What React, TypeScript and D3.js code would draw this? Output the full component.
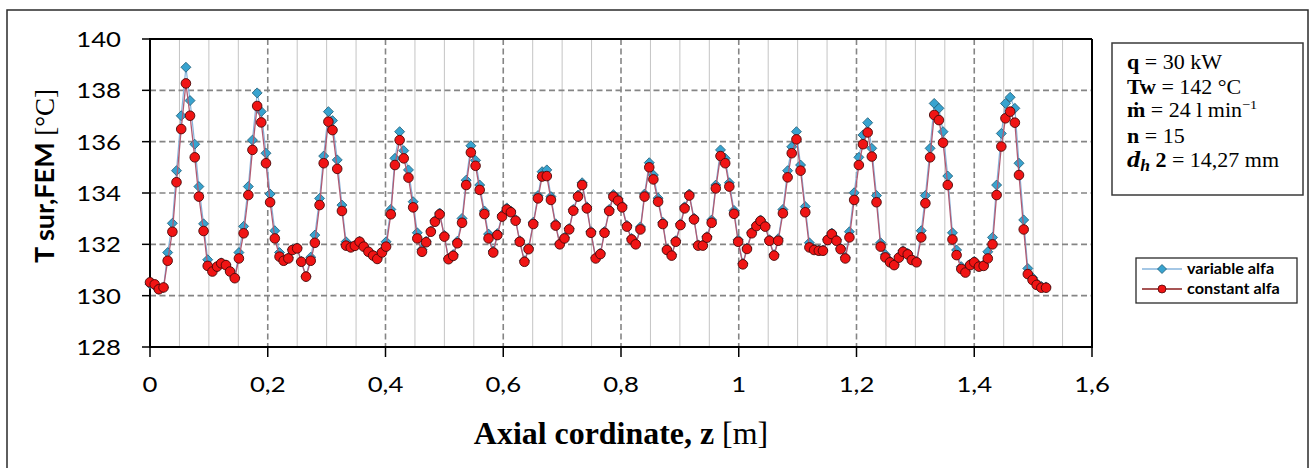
import React from "react";
import * as d3 from "d3";

// Axial coordinate z [m]
const zValues: number[] = [
  0.000, 0.008, 0.015, 0.023, 0.030, 0.038, 0.045, 0.053, 0.061, 0.068,
  0.076, 0.083, 0.091, 0.098, 0.106, 0.114, 0.121, 0.129, 0.136, 0.144,
  0.151, 0.159, 0.167, 0.174, 0.182, 0.189, 0.197, 0.204, 0.212, 0.220,
  0.227, 0.235, 0.242, 0.250, 0.257, 0.265, 0.273, 0.280, 0.288, 0.295,
  0.303, 0.310, 0.318, 0.326, 0.333, 0.341, 0.348, 0.356, 0.363, 0.371,
  0.379, 0.386, 0.394, 0.401, 0.409, 0.416, 0.424, 0.431, 0.439, 0.447,
  0.454, 0.462, 0.469, 0.477, 0.484, 0.492, 0.500, 0.507, 0.515, 0.522,
  0.530, 0.537, 0.545, 0.553, 0.560, 0.568, 0.575, 0.583, 0.590, 0.598,
  0.606, 0.613, 0.621, 0.628, 0.636, 0.643, 0.651, 0.659, 0.666, 0.674,
  0.681, 0.689, 0.696, 0.704, 0.712, 0.719, 0.727, 0.734, 0.742, 0.749,
  0.757, 0.765, 0.772, 0.780, 0.787, 0.795, 0.802, 0.810, 0.818, 0.825,
  0.833, 0.840, 0.848, 0.855, 0.863, 0.871, 0.878, 0.886, 0.893, 0.901,
  0.908, 0.916, 0.924, 0.931, 0.939, 0.946, 0.954, 0.961, 0.969, 0.977,
  0.984, 0.992, 0.999, 1.007, 1.014, 1.022, 1.030, 1.037, 1.045, 1.052,
  1.060, 1.067, 1.075, 1.083, 1.090, 1.098, 1.105, 1.113, 1.120, 1.128,
  1.136, 1.143, 1.151, 1.158, 1.166, 1.173, 1.181, 1.188, 1.196, 1.204,
  1.211, 1.219, 1.226, 1.234, 1.241, 1.249, 1.257, 1.264, 1.272, 1.279,
  1.287, 1.294, 1.302, 1.310, 1.317, 1.325, 1.332, 1.340, 1.347, 1.355,
  1.363, 1.370, 1.378, 1.385, 1.393, 1.400, 1.408, 1.416, 1.423, 1.431,
  1.438, 1.446, 1.453, 1.461, 1.469, 1.476, 1.484, 1.491, 1.499, 1.506,
  1.514, 1.522,
];

// T sur,FEM [°C] – variable alfa
const variableAlfa: number[] = [
  130.45, 130.40, 130.25, 130.32, 131.68, 132.82, 134.87, 137.01, 138.90, 137.60,
  135.90, 134.25, 132.80, 131.40, 131.00, 131.15, 131.28, 131.20, 130.96, 130.70,
  131.68, 132.70, 134.25, 136.06, 137.90, 137.17, 135.55, 133.96, 132.53, 131.68,
  131.40, 131.48, 131.80, 131.86, 131.34, 130.76, 131.50, 132.36, 133.79, 135.44,
  137.17, 136.82, 135.29, 133.53, 132.10, 131.92, 131.96, 132.12, 131.93, 131.73,
  131.58, 131.45, 131.72, 132.10, 133.36, 135.35, 136.39, 135.65, 134.90, 133.66,
  132.45, 131.80, 132.12, 132.52, 132.92, 133.22, 132.35, 131.46, 131.60, 132.12,
  133.01, 134.50, 135.84, 135.27, 134.31, 133.30, 132.40, 131.74, 132.42, 133.14,
  133.42, 133.30, 132.96, 132.14, 131.36, 131.86, 132.86, 133.90, 134.83, 134.90,
  133.86, 132.80, 132.04, 132.27, 132.62, 133.36, 133.92, 134.40, 133.46, 132.50,
  131.48, 131.66, 132.50, 133.36, 133.94, 133.78, 133.50, 132.74, 132.23, 132.04,
  132.68, 133.96, 135.18, 134.70, 133.80, 132.86, 131.82, 131.60, 132.14, 132.80,
  133.46, 133.96, 133.02, 131.98, 131.98, 132.30, 132.95, 134.31, 135.68, 135.35,
  134.40, 133.32, 132.18, 131.26, 131.86, 132.47, 132.75, 132.95, 132.73, 132.18,
  131.60, 132.22, 133.36, 134.87, 135.80, 136.39, 135.09, 133.47, 132.06, 131.82,
  131.78, 131.78, 132.20, 132.44, 132.18, 131.85, 131.50, 132.49, 134.01, 135.39,
  136.26, 136.74, 135.74, 133.90, 132.06, 131.60, 131.34, 131.22, 131.52, 131.75,
  131.65, 131.43, 131.34, 132.53, 133.90, 135.74, 137.49, 137.30, 136.39, 134.66,
  132.45, 131.78, 131.13, 130.95, 131.23, 131.34, 131.17, 131.20, 131.71, 132.27,
  134.31, 136.32, 137.49, 137.73, 137.30, 135.16, 132.95, 131.06, 130.70, 130.48,
  130.36, 130.34,
];

// T sur,FEM [°C] – constant alfa
const constantAlfa: number[] = [
  130.52, 130.44, 130.25, 130.32, 131.36, 132.49, 134.42, 136.49, 138.27, 137.01,
  135.39, 133.86, 132.52, 131.16, 130.94, 131.13, 131.26, 131.19, 130.94, 130.68,
  131.45, 132.43, 133.92, 135.68, 137.39, 136.75, 135.16, 133.64, 132.23, 131.52,
  131.36, 131.45, 131.78, 131.84, 131.32, 130.74, 131.36, 132.06, 133.53, 135.16,
  136.78, 136.45, 134.94, 133.30, 131.95, 131.88, 131.94, 132.10, 131.91, 131.71,
  131.56, 131.43, 131.68, 131.91, 133.17, 135.09, 136.06, 135.35, 134.60, 133.44,
  132.23, 131.71, 132.08, 132.49, 132.88, 133.17, 132.30, 131.42, 131.55, 132.04,
  132.84, 134.31, 135.58, 135.06, 134.12, 133.18, 132.23, 131.68, 132.36, 133.08,
  133.36, 133.25, 132.92, 132.10, 131.32, 131.81, 132.79, 133.79, 134.64, 134.66,
  133.73, 132.73, 132.00, 132.23, 132.58, 133.31, 133.86, 134.31, 133.40, 132.45,
  131.45, 131.62, 132.45, 133.30, 133.86, 133.70, 133.44, 132.69, 132.19, 132.00,
  132.58, 133.86, 135.00, 134.53, 133.66, 132.79, 131.78, 131.56, 132.10, 132.75,
  133.40, 133.90, 132.97, 131.95, 131.95, 132.26, 132.84, 134.18, 135.44, 135.16,
  134.25, 133.19, 132.10, 131.22, 131.82, 132.43, 132.71, 132.91, 132.69, 132.14,
  131.56, 132.14, 133.21, 134.61, 135.55, 136.09, 134.87, 133.25, 131.88, 131.78,
  131.75, 131.75, 132.17, 132.40, 132.14, 131.81, 131.45, 132.27, 133.73, 135.09,
  135.90, 136.36, 135.42, 133.64, 131.91, 131.49, 131.30, 131.19, 131.48, 131.71,
  131.61, 131.39, 131.30, 132.27, 133.60, 135.39, 137.04, 136.84, 135.96, 134.31,
  132.19, 131.58, 131.04, 130.90, 131.19, 131.30, 131.13, 131.16, 131.45, 132.00,
  133.92, 135.81, 136.91, 137.17, 136.74, 134.70, 132.58, 130.84, 130.61, 130.42,
  130.31, 130.31,
];

const xTicks: number[] = [0, 0.2, 0.4, 0.6, 0.8, 1.0, 1.2, 1.4, 1.6];
const xTickLabels: string[] = ["0", "0,2", "0,4", "0,6", "0,8", "1", "1,2", "1,4", "1,6"];
const xMinorTicks: number[] = [
  0.05, 0.1, 0.15, 0.25, 0.3, 0.35, 0.45, 0.5, 0.55, 0.65, 0.7, 0.75,
  0.85, 0.9, 0.95, 1.05, 1.1, 1.15, 1.25, 1.3, 1.35, 1.45, 1.5, 1.55,
];
const yTicks: number[] = [128, 130, 132, 134, 136, 138, 140];

const seriesNames: string[] = ["variable alfa", "constant alfa"];

const W = 1314;
const H = 468;
const PL = 150, PR = 1092, PT = 39, PB = 347;

const SANS = "Lato, 'Open Sans', sans-serif";
const SERIF = "'Liberation Serif', 'Times New Roman', serif";

const BLUE_FILL = "#38a3cf";
const BLUE_STROKE = "#1f5a73";
const BLUE_LINE = "#86b4dc";
const RED_FILL = "#f01414";
const RED_STROKE = "#4a0808";
const RED_LINE = "#b05a72";

const diamond = (cx: number, cy: number, r: number) =>
  `M${cx},${cy - r}L${cx + r},${cy}L${cx},${cy + r}L${cx - r},${cy}Z`;

function SText(props: {
  x: number; y: number; sx?: number; anchor?: string; size: number;
  family: string; weight?: string | number; children: React.ReactNode;
}) {
  const { x, y, sx = 1, anchor = "start", size, family, weight = "normal", children } = props;
  return (
    <text
      transform={`translate(${x},${y}) scale(${sx},1)`}
      textAnchor={anchor}
      fontSize={size}
      fontFamily={family}
      fontWeight={weight}
      fill="#000"
    >
      {children}
    </text>
  );
}

export default function App() {
  const x = d3.scaleLinear().domain([0, 1.6]).range([PL, PR]);
  const y = d3.scaleLinear().domain([128, 140]).range([PB, PT]);

  const varPts = zValues.map((z, i) => [x(z), y(variableAlfa[i])] as [number, number]);
  const conPts = zValues.map((z, i) => [x(z), y(constantAlfa[i])] as [number, number]);
  const line = d3.line();

  const boxX = 1112, boxY = 43;
  const lineH = 24.5;
  const legX = 1136, legY = 258, legW = 161, legH = 45;

  return (
    <svg
      width={W}
      height={H}
      style={{ position: "absolute", left: 0, top: 0, background: "#fff" }}
    >
      <rect x={0} y={0} width={W} height={H} fill="#fff" />
      {/* outer chart frame */}
      <rect x={7} y={10} width={1301} height={470} fill="none" stroke="#2a2a2a" strokeWidth={1.5} />

      {/* minor vertical gridlines */}
      {xMinorTicks.map((t) => (
        <line key={"mn" + t} x1={x(t)} x2={x(t)} y1={PT} y2={PB} stroke="#c4c4c4" strokeWidth={1} />
      ))}
      {/* major vertical gridlines */}
      {xTicks.filter((t) => t > 0 && t < 1.6).map((t) => (
        <line key={"mj" + t} x1={x(t)} x2={x(t)} y1={PT} y2={PB} stroke="#858585" strokeWidth={1.6} strokeDasharray="6,3.5" />
      ))}
      {/* horizontal gridlines */}
      {yTicks.filter((t) => t > 128 && t < 140).map((t) => (
        <line key={"h" + t} x1={PL} x2={PR} y1={y(t)} y2={y(t)} stroke="#858585" strokeWidth={1.6} strokeDasharray="6,3.5" />
      ))}

      {/* plot border / axes */}
      <line x1={PL} x2={PR} y1={PT} y2={PT} stroke="#000" strokeWidth={2} />
      <line x1={PR} x2={PR} y1={PT} y2={PB} stroke="#000" strokeWidth={2} />
      <line x1={PL} x2={PL} y1={PT - 1} y2={PB + 1} stroke="#000" strokeWidth={2} />
      <line x1={PL - 1} x2={PR + 1} y1={PB} y2={PB} stroke="#000" strokeWidth={2} />

      {/* ticks */}
      {yTicks.map((t) => (
        <line key={"yt" + t} x1={PL - 8} x2={PL} y1={y(t)} y2={y(t)} stroke="#000" strokeWidth={1.5} />
      ))}
      {xTicks.map((t) => (
        <line key={"xt" + t} x1={x(t)} x2={x(t)} y1={PB} y2={PB + 10} stroke="#000" strokeWidth={1.5} />
      ))}

      {/* tick labels */}
      {yTicks.map((t) => (
        <SText key={"yl" + t} x={121} y={y(t) + 8} sx={1.17} anchor="end" size={22} family={SANS}>
          {String(t)}
        </SText>
      ))}
      {xTicks.map((t, i) => (
        <SText key={"xl" + t} x={x(t)} y={392} sx={1.17} anchor="middle" size={22} family={SANS}>
          {xTickLabels[i]}
        </SText>
      ))}

      {/* series: variable alfa */}
      <path d={line(varPts) || ""} fill="none" stroke={BLUE_LINE} strokeWidth={1.2} />
      {varPts.map((p, i) => (
        <path key={"v" + i} d={diamond(p[0], p[1], 5)} fill={BLUE_FILL} stroke={BLUE_STROKE} strokeWidth={0.8} />
      ))}
      {/* series: constant alfa */}
      <path d={line(conPts) || ""} fill="none" stroke={RED_LINE} strokeWidth={1.3} />
      {conPts.map((p, i) => (
        <circle key={"c" + i} cx={p[0]} cy={p[1]} r={4.8} fill={RED_FILL} stroke={RED_STROKE} strokeWidth={0.9} />
      ))}

      {/* y-axis title */}
      <text
        transform={`translate(54,176) rotate(-90)`}
        textAnchor="middle"
        fontSize={27}
        fill="#000"
      >
        <tspan fontFamily={SANS} fontWeight="bold">T sur,FEM </tspan>
        <tspan fontFamily={SERIF} fontWeight="normal">[°C]</tspan>
      </text>

      {/* x-axis title */}
      <text
        transform={`translate(${(PL + PR) / 2},444) scale(1.03,1)`}
        textAnchor="middle"
        fontSize={31}
        fill="#000"
        fontFamily={SERIF}
      >
        <tspan fontWeight="bold">Axial cordinate, z </tspan>
        <tspan fontWeight="normal">[m]</tspan>
      </text>

      {/* parameters box */}
      <rect x={boxX} y={boxY} width={191} height={152} fill="#fff" stroke="#3a3a3a" strokeWidth={1.5} />
      <g>
        <SText x={1127} y={69} sx={1.1} size={20} family={SERIF}>
          <tspan fontWeight="bold">q</tspan> = 30 kW
        </SText>
        <SText x={1127} y={69 + lineH} sx={1.1} size={20} family={SERIF}>
          <tspan fontWeight="bold">Tw</tspan> = 142 °C
        </SText>
        <SText x={1127} y={69 + lineH * 2 - 1} sx={1.1} size={20} family={SERIF}>
          <tspan fontWeight="bold">ṁ</tspan> = 24 l min<tspan dy={-8} fontSize={13}>−1</tspan>
        </SText>
        <SText x={1127} y={69 + lineH * 3} sx={1.1} size={20} family={SERIF}>
          <tspan fontWeight="bold">n</tspan> = 15
        </SText>
        <SText x={1127} y={69 + lineH * 4} sx={1.1} size={20} family={SERIF}>
          <tspan fontWeight="bold" fontStyle="italic" fontSize={24}>d</tspan>
          <tspan fontWeight="bold" fontStyle="italic" fontSize={16} dy={4}>h</tspan>
          <tspan fontWeight="bold" dy={-4}> 2</tspan> = 14,27 mm
        </SText>
      </g>

      {/* legend */}
      <rect x={legX} y={legY} width={legW} height={legH} fill="#fff" stroke="#2a2a2a" strokeWidth={1.3} />
      <line x1={1142} x2={1182} y1={269} y2={269} stroke={BLUE_LINE} strokeWidth={1.5} />
      <path d={diamond(1162, 269, 4.5)} fill={BLUE_FILL} stroke={BLUE_STROKE} strokeWidth={0.8} />
      <SText x={1187} y={274} sx={1.12} size={14.5} family={SANS} weight="bold">
        {seriesNames[0]}
      </SText>
      <line x1={1142} x2={1182} y1={289} y2={289} stroke="#8a1c1c" strokeWidth={1.5} />
      <circle cx={1162} cy={289} r={4} fill={RED_FILL} stroke={RED_STROKE} strokeWidth={0.8} />
      <SText x={1187} y={294} sx={1.12} size={14.5} family={SANS} weight="bold">
        {seriesNames[1]}
      </SText>
    </svg>
  );
}
